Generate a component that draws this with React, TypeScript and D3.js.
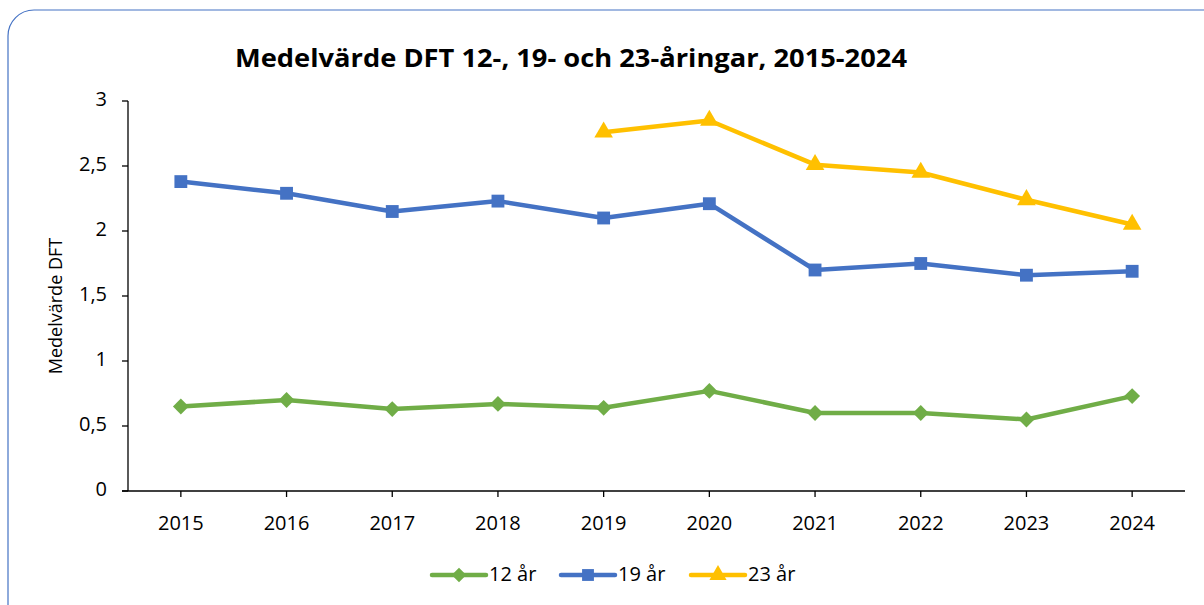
import { useMemo } from 'react'
import { scaleBand, scaleLinear, line, symbol, symbolSquare, symbolTriangle } from 'd3'

// Medelvärde DFT per åldersgrupp, 2015–2024

const YEARS = ['2015', '2016', '2017', '2018', '2019', '2020', '2021', '2022', '2023', '2024']
const AGE12 = [0.65, 0.7, 0.63, 0.67, 0.64, 0.77, 0.6, 0.6, 0.55, 0.73]
const AGE19 = [2.38, 2.29, 2.15, 2.23, 2.1, 2.21, 1.7, 1.75, 1.66, 1.69]
const AGE23 = [null, null, null, null, 2.76, 2.85, 2.51, 2.45, 2.24, 2.05]
const Y_TICKS = [0, 0.5, 1, 1.5, 2, 2.5, 3]

const W = 1204
const H = 605
const PLOT = { left: 128, right: 1185, top: 101, bottom: 491 }
const FONT = "'Open Sans', sans-serif"

// diamant = kvadrat vriden 45°
const SERIES = [
  { name: '12 år', values: AGE12, color: '#70AD47', shape: symbolSquare, size: 125, rot: 45 },
  { name: '19 år', values: AGE19, color: '#4472C4', shape: symbolSquare, size: 165, rot: 0 },
  { name: '23 år', values: AGE23, color: '#FFC000', shape: symbolTriangle, size: 150, rot: 0 },
]

const fmt = (v: number) => String(v).replace('.', ',')

export default function App() {
  const x = useMemo(() => scaleBand().domain(YEARS).range([PLOT.left, PLOT.right]), [])
  const y = useMemo(() => scaleLinear().domain([0, 3]).range([PLOT.bottom, PLOT.top]), [])
  const cx = (yr: string) => (x(yr) ?? 0) + x.bandwidth() / 2

  const legendX = [432, 561, 691]

  return (
    <svg width={W} height={H} style={{ position: 'fixed', left: 0, top: 0, background: '#fff' }} fontFamily={FONT}>
      <rect x={8} y={10} width={W + 20} height={H + 20} rx={26} fill="#fff" stroke="#4472C4" strokeWidth={1.2} />
      <text x={571} y={67} textAnchor="middle" fontSize={25} fontWeight="bold" fill="#000" textLength={672} lengthAdjust="spacingAndGlyphs">
        Medelvärde DFT 12-, 19- och 23-åringar, 2015-2024
      </text>

      {/* y-axel */}
      <line x1={PLOT.left} x2={PLOT.left} y1={PLOT.top} y2={PLOT.bottom} stroke="#000" strokeWidth={1.3} />
      {Y_TICKS.map((t) => (
        <g key={t}>
          <line x1={PLOT.left - 6} x2={PLOT.left} y1={y(t)} y2={y(t)} stroke="#000" strokeWidth={1.3} />
          <text x={PLOT.left - 21} y={y(t)} textAnchor="end" dominantBaseline="middle" fontSize={20} fill="#000">
            {fmt(t)}
          </text>
        </g>
      ))}
      <text
        transform={`translate(62, ${(PLOT.top + PLOT.bottom) / 2 + 10}) rotate(-90)`}
        textAnchor="middle"
        fontSize={18}
        fill="#000"
      >
        Medelvärde DFT
      </text>

      {/* x-axel */}
      <line x1={PLOT.left - 6} x2={PLOT.right} y1={PLOT.bottom} y2={PLOT.bottom} stroke="#000" strokeWidth={1.3} />
      {YEARS.map((yr) => (
        <g key={yr}>
          <line x1={cx(yr)} x2={cx(yr)} y1={PLOT.bottom} y2={PLOT.bottom + 6} stroke="#000" strokeWidth={1.3} />
          <text x={cx(yr)} y={PLOT.bottom + 39} textAnchor="middle" fontSize={20} fill="#000">
            {yr}
          </text>
        </g>
      ))}

      {/* serier */}
      {SERIES.map((s) => {
        const pts = YEARS.map((yr, i) => ({ yr, v: s.values[i] }))
        const path = line<{ yr: string; v: number | null }>()
          .defined((d) => d.v != null)
          .x((d) => cx(d.yr))
          .y((d) => y(d.v as number))(pts)
        const sym = symbol().type(s.shape).size(s.size)()
        return (
          <g key={s.name}>
            <path d={path ?? ''} fill="none" stroke={s.color} strokeWidth={4.5} strokeLinejoin="round" />
            {pts
              .filter((d) => d.v != null)
              .map((d) => (
                <path
                  key={d.yr}
                  d={sym ?? ''}
                  transform={`translate(${cx(d.yr)}, ${y(d.v as number)}) rotate(${s.rot})`}
                  fill={s.color}
                />
              ))}
          </g>
        )
      })}

      {/* legend */}
      {SERIES.map((s, i) => {
        const lx = legendX[i]
        const ly = 575
        const sym = symbol().type(s.shape).size(s.size * 0.85)()
        return (
          <g key={s.name}>
            <line x1={lx} x2={lx + 54} y1={ly} y2={ly} stroke={s.color} strokeWidth={4.5} strokeLinecap="round" />
            <path d={sym ?? ''} transform={`translate(${lx + 27}, ${ly}) rotate(${s.rot})`} fill={s.color} />
            <text x={lx + 57} y={ly + 1} dominantBaseline="middle" fontSize={20} fill="#000">
              {s.name}
            </text>
          </g>
        )
      })}
    </svg>
  )
}
